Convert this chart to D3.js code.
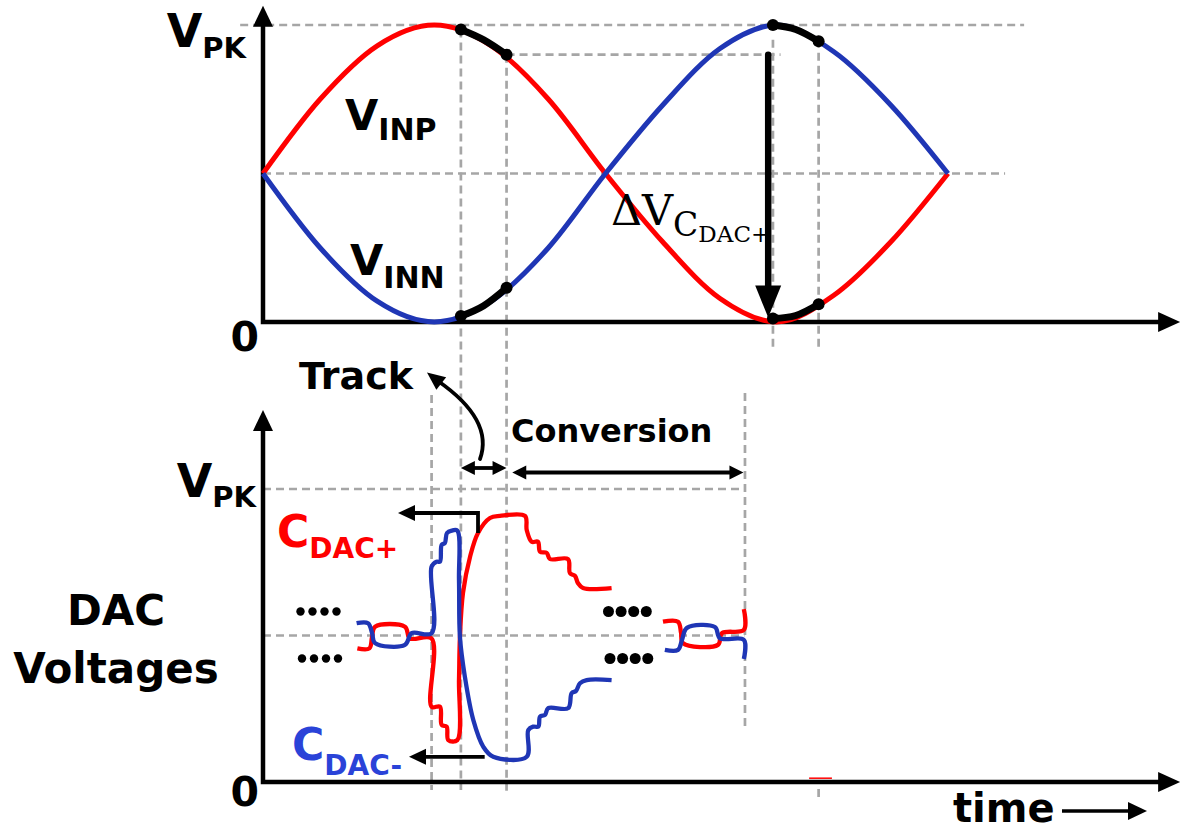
<!DOCTYPE html>
<html>
<head>
<meta charset="utf-8">
<script src="https://cdn.jsdelivr.net/npm/d3@7"></script>
<style>
  body { margin: 0; background: #fff; }
  svg { display: block; }
</style>
</head>
<body>
<script>
// input sine (phase in degrees, voltage as fraction of VPK)
var phase = [0, 30, 60, 90, 120, 150, 180, 210, 240, 270, 300, 330, 360],
	vInp = [0.5, 0.75, 0.93, 1, 0.93, 0.75, 0.5, 0.27, 0.08, 0, 0.09, 0.27, 0.5],
	vInn = [0.5, 0.25, 0.07, 0, 0.07, 0.25, 0.5, 0.73, 0.92, 1, 0.91, 0.73, 0.5];

// track windows drawn in black on the sine
var holdInp = [[104, 0.985], [116, 0.95], [128, 0.9]],
	holdInn = [[104, 0.02], [116, 0.055], [128, 0.115]],
	holdInn2 = [[268, 1], [280, 0.985], [292, 0.945]],
	holdInp2 = [[268, 0.012], [280, 0.022], [292, 0.06]];

var sampleT = [104, 128, 268, 292],
	sampledLevel = 0.9;

// DAC voltages
var cdacPlus = [[49.6, 0.456], [55.9, 0.456], [57.3, 0.495], [58.9, 0.53], [74.6, 0.53], [77.2, 0.49],
	[88.6, 0.49], [88.6, 0.257], [93.0, 0.257], [93.9, 0.195], [96.5, 0.189], [97.4, 0.143], [102.1, 0.143],
	[103.0, 0.348], [103.5, 0.495], [105.1, 0.645], [108.8, 0.768], [113.0, 0.85], [119.3, 0.901],
	[124.5, 0.908], [137.7, 0.908], [138.6, 0.86], [141.2, 0.82], [144.5, 0.82], [145.6, 0.786],
	[149.1, 0.782], [150.8, 0.761], [160.3, 0.761], [161.3, 0.713], [164.0, 0.703], [165.5, 0.679],
	[168.2, 0.662], [183.2, 0.662]],
	cdacMinus = [[49.2, 0.542], [55.2, 0.542], [57.3, 0.509], [58.9, 0.474], [74.6, 0.468], [78.1, 0.508],
	[88.6, 0.508], [88.6, 0.735], [91.2, 0.752], [93.0, 0.752], [93.9, 0.809], [95.6, 0.816], [96.7, 0.85],
	[99.2, 0.858], [102.1, 0.858], [103.0, 0.689], [103.5, 0.495], [106.1, 0.359], [110.5, 0.212],
	[115.8, 0.12], [121.0, 0.086], [138.6, 0.086], [139.4, 0.177], [142.0, 0.189], [144.7, 0.189],
	[145.6, 0.223], [148.2, 0.229], [149.9, 0.252], [160.4, 0.252], [162.2, 0.303], [164.5, 0.311],
	[166.6, 0.337], [170.1, 0.348], [183.2, 0.348]],
	cdacPlusEnd = [[210.2, 0.547], [218.1, 0.547], [219.7, 0.509], [220.7, 0.474], [239.1, 0.468],
	[241.2, 0.508], [252.7, 0.519], [252.7, 0.59]],
	cdacMinusEnd = [[211.2, 0.451], [218.1, 0.451], [220.2, 0.485], [222.8, 0.526], [237.5, 0.529],
	[240.1, 0.491], [252.7, 0.485], [252.7, 0.42]];

var levelLabels = [{v: 0, main: "0", sub: ""}, {v: 1, main: "V", sub: "PK"}];

var RED = "#ff0000", BLUE = "#1f36b5", BLUE_TXT = "#2a43d8", GRID = "#a6a6a6";
var SANS = "'DejaVu Sans', Verdana, sans-serif", SERIF = "'DejaVu Serif', serif";

var svg = d3.select("body").append("svg").attr("width", 1183).attr("height", 834);

var x = d3.scaleLinear().domain([0, 360]).range([263, 948]),
	yTop = d3.scaleLinear().domain([0, 1]).range([322, 25]),
	yBot = d3.scaleLinear().domain([0, 1]).range([782, 489]);

function head(x0, y0, ang, len, half) {
	var dx = Math.cos(ang), dy = Math.sin(ang),
		bx = x0 - dx * len, by = y0 - dy * len;
	svg.append("path")
		.attr("d", "M" + [[x0, y0], [bx - dy * half, by + dx * half], [bx + dy * half, by - dx * half]].join("L") + "Z")
		.attr("fill", "#000");
}

function dash(x1, y1, x2, y2) {
	svg.append("line")
		.attr("x1", x1).attr("y1", y1).attr("x2", x2).attr("y2", y2)
		.attr("stroke", GRID)
		.attr("stroke-width", 2.7)
		.attr("stroke-dasharray", "8,5");
}

// dashed guides
dash(x(-12), yTop(1), x(400), yTop(1));
dash(x(0), yTop(0.5), x(390), yTop(0.5));
dash(x(128), yTop(sampledLevel), x(272), yTop(sampledLevel));
dash(x(sampleT[0]), yTop(0.985), x(sampleT[0]), 790);
dash(x(sampleT[1]), yTop(0.9), x(sampleT[1]), 795);
dash(x(sampleT[2]), yTop(0.95), x(sampleT[2]), 350);
dash(x(sampleT[3]), yTop(0.95), x(sampleT[3]), 350);
dash(x(sampleT[3]), 789, x(sampleT[3]), 800);
dash(x(0), yBot(1), x(253), yBot(1));
dash(x(0), yBot(0.5), x(253), yBot(0.5));
dash(x(88.6), 395, x(88.6), 790);
dash(x(253.3), 393, x(253.3), 727);

// axes
[[yTop, 1.065], [yBot, 1.27]].forEach(function (a) {
	var y = a[0];
	svg.append("path")
		.attr("d", "M" + x(0) + "," + y(a[1] - 0.06) + "V" + y(0) + "H" + (x(482) - 15))
		.attr("fill", "none")
		.attr("stroke", "#000")
		.attr("stroke-width", 4.5);
	head(x(0), y(a[1]), -Math.PI / 2, 21, 10);
	head(x(482), y(0), 0, 22, 10);
});

// input waves
var waveLine = d3.line()
	.x(function (d) { return x(d[0]); })
	.y(function (d) { return yTop(d[1]); })
	.curve(d3.curveMonotoneX);

svg.append("path").attr("d", waveLine(d3.zip(phase, vInp)))
	.attr("fill", "none").attr("stroke", RED).attr("stroke-width", 5);
svg.append("path").attr("d", waveLine(d3.zip(phase, vInn)))
	.attr("fill", "none").attr("stroke", BLUE).attr("stroke-width", 5);

var holdLine = d3.line()
	.x(function (d) { return x(d[0]); })
	.y(function (d) { return yTop(d[1]); })
	.curve(d3.curveNatural);

[holdInp, holdInn, holdInn2, holdInp2].forEach(function (h) {
	svg.append("path").attr("d", holdLine(h))
		.attr("fill", "none").attr("stroke", "#000").attr("stroke-width", 7).attr("stroke-linecap", "round");
	svg.selectAll(null).data([h[0], h[h.length - 1]]).enter().append("circle")
		.attr("cx", function (d) { return x(d[0]); })
		.attr("cy", function (d) { return yTop(d[1]); })
		.attr("r", 6);
});

// delta V arrow
svg.append("line")
	.attr("x1", x(265.5)).attr("y1", yTop(sampledLevel))
	.attr("x2", x(265.5)).attr("y2", yTop(0.1))
	.attr("stroke", "#000").attr("stroke-width", 6.5).attr("stroke-linecap", "round");
head(x(265.5), yTop(0.015), Math.PI / 2, 32, 13);

// DAC traces
var dacLine = d3.line()
	.x(function (d) { return x(d[0]); })
	.y(function (d) { return yBot(d[1]); })
	.curve(d3.curveCatmullRom.alpha(0.5));

[[cdacPlus, RED], [cdacMinus, BLUE], [cdacPlusEnd, RED], [cdacMinusEnd, BLUE]].forEach(function (t) {
	svg.append("path").attr("d", dacLine(t[0]))
		.attr("fill", "none").attr("stroke", t[1]).attr("stroke-width", 4.3)
		.attr("stroke-linejoin", "round");
});

svg.append("line")
	.attr("x1", x(287)).attr("x2", x(299)).attr("y1", yBot(0.013)).attr("y2", yBot(0.013))
	.attr("stroke", RED).attr("stroke-width", 1.5);

// ellipsis dots
[[0, 4.2], [1, 5.5]].forEach(function (s) {
	var x0 = s[0] ? 608.5 : 300.5, step = s[0] ? 12.6 : 12;
	[-24, 23].forEach(function (off, k) {
		svg.selectAll(null).data(d3.range(4)).enter().append("circle")
			.attr("cx", function (i) { return x0 + k * 1.5 + i * step; })
			.attr("cy", yBot(0.5) + off)
			.attr("r", s[1]);
	});
});

// label pointers
svg.append("path")
	.attr("d", "M" + x(113) + "," + yBot(0.85) + "V513H412")
	.attr("fill", "none").attr("stroke", "#000").attr("stroke-width", 3.8);
head(398, 513, Math.PI, 17, 8);
svg.append("path")
	.attr("d", "M" + x(116.5) + "," + yBot(0.086) + "H424")
	.attr("fill", "none").attr("stroke", "#000").attr("stroke-width", 3.8);
head(409, yBot(0.086), Math.PI, 17, 8);

// track / conversion spans
function span(t0, t1, y) {
	svg.append("line")
		.attr("x1", x(t0) + 10).attr("x2", x(t1) - 10).attr("y1", y).attr("y2", y)
		.attr("stroke", "#000").attr("stroke-width", 3.8);
	head(x(t0), y, Math.PI, 14, 7);
	head(x(t1), y, 0, 14, 7);
}
span(sampleT[0], sampleT[1], 468);
span(131, 252.5, 472.5);

svg.append("path")
	.attr("d", "M480,459 Q494,420 438,381")
	.attr("fill", "none").attr("stroke", "#000").attr("stroke-width", 3.8).attr("stroke-linecap", "round");
head(427, 372.5, Math.atan2(-8.5, -11), 18, 8);

svg.append("line").attr("x1", 1062).attr("x2", 1132).attr("y1", 811).attr("y2", 811)
	.attr("stroke", "#000").attr("stroke-width", 3.5);
head(1147, 811, 0, 19, 9);

// text
function label(xp, yp, main, sub, size, subSize, dy, anchor, color, font) {
	var t = svg.append("text")
		.attr("x", xp).attr("y", yp)
		.attr("text-anchor", anchor || "start")
		.attr("font-family", font || SANS)
		.attr("font-weight", font ? "normal" : "bold")
		.attr("fill", color || "#000");
	t.append("tspan").attr("font-size", size).text(main);
	if (sub) t.append("tspan").attr("font-size", subSize).attr("dy", dy).text(sub);
	return t;
}

levelLabels.forEach(function (l) {
	if (l.sub) {
		label(246, yTop(l.v) + 22, l.main, l.sub, 46, 29, 11, "end");
		label(256, yBot(l.v) + 8, l.main, l.sub, 46, 29, 10, "end");
	} else {
		label(259, yTop(l.v) + 29, l.main, "", 41, 0, 0, "end");
		label(259, yBot(l.v) + 24, l.main, "", 41, 0, 0, "end");
	}
});

label(345, 130, "V", "INP", 43, 30, 10);
label(350, 275, "V", "INN", 43, 30, 13);

var dv = label(611, 225, "\u0394V", "C", 43, 33, 11, "start", "#000", SERIF);
dv.append("tspan").attr("font-size", 23).attr("dy", 6).text("DAC+");

label(277, 547, "C", "DAC+", 44, 28, 11, "start", RED);
label(292, 760, "C", "DAC-", 44, 28, 15, "start", BLUE_TXT);

label(299, 389, "Track", "", 38);
label(511, 442, "Conversion", "", 32);
label(953, 822, "time", "", 40);

svg.append("text")
	.attr("x", 116).attr("y", 625)
	.attr("text-anchor", "middle")
	.attr("font-family", SANS).attr("font-weight", "bold").attr("font-size", 42)
	.text("DAC");
svg.append("text")
	.attr("x", 116).attr("y", 683)
	.attr("text-anchor", "middle")
	.attr("font-family", SANS).attr("font-weight", "bold").attr("font-size", 42)
	.text("Voltages");
</script>
</body>
</html>
